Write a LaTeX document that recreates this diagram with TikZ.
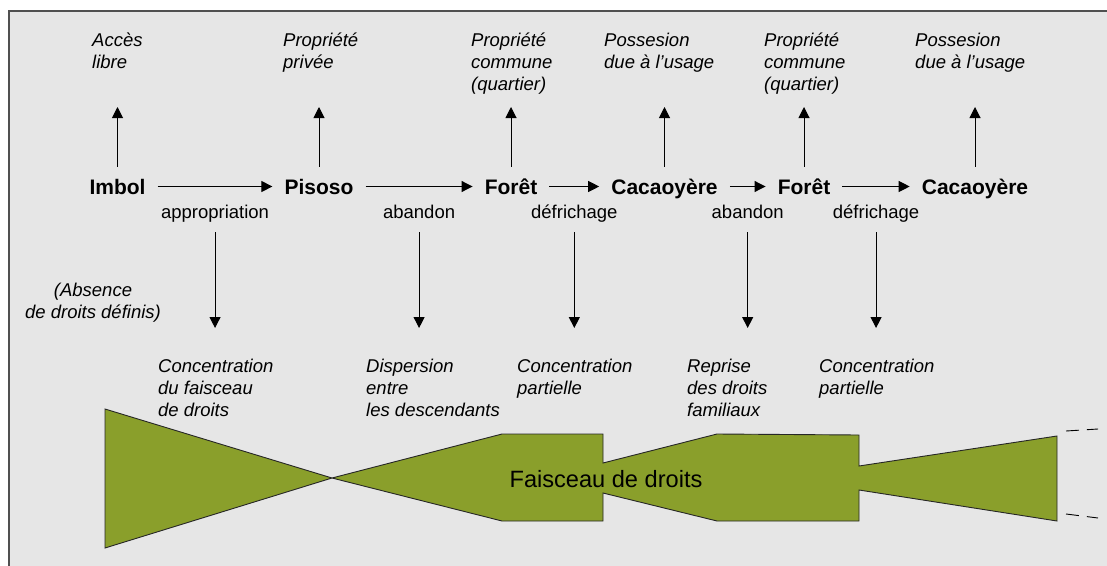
\documentclass[tikz,border=0pt]{standalone}
\usepackage{fontspec}
\setmainfont{Liberation Sans}
\usepackage{tikz}
\usetikzlibrary{arrows.meta, positioning}
\definecolor{panelgray}{RGB}{230,230,230}
\definecolor{framegray}{RGB}{80,80,80}
\definecolor{bundlegreen}{RGB}{138,159,43}
\tikzset{
    stage/.style={
        font=\fontsize{21}{25}\selectfont\bfseries,
        inner sep=0pt,
        text height=15pt,
        text depth=0pt
    },
    rights/.style={
        font=\fontsize{18.5}{22}\selectfont\itshape,
        align=left,
        inner sep=0pt,
        anchor=north west
    },
    event/.style={
        font=\fontsize{18.5}{22}\selectfont,
        inner sep=0pt,
        text height=13.5pt,
        text depth=4pt
    },
    wire/.style={
        draw=black,
        line width=1pt,
        -{Triangle[length=11pt,width=11pt]}
    },
    flow/.style={
        wire,
        shorten <=12pt,
        shorten >=12pt
    },
    bundle/.style={
        fill=bundlegreen,
        draw=black!85,
        line width=0.9pt
    },
    extension/.style={
        draw=black,
        line width=0.9pt,
        dash pattern=on 13pt off 8pt
    }
}

\begin{document}
\begin{tikzpicture}[x=1pt, y=-1pt]

% Panel
\useasboundingbox (0,0) rectangle (1107,565);
\fill[white] (0,0) rectangle (1107,565);
\draw[draw=framegray, line width=2pt, fill=panelgray] (9,11) rectangle (1130,590);

% Rows for the vertical arrows
\coordinate (uprow) at (0,107);
\coordinate (downrow) at (0,328);

% Stages of the land
\node[stage] (imbol) at (117.5,186.5) {Imbol};
\node[stage] (pisoso) at (319,186.5) {Pisoso};
\node[stage] (foret_a) at (511,186.5) {Forêt};
\node[stage] (cacao_a) at (664.5,186.5) {Cacaoyère};
\node[stage] (foret_b) at (804,186.5) {Forêt};
\node[stage] (cacao_b) at (975,186.5) {Cacaoyère};

% Rights attached to each stage
\node[rights] (acces) at (92,32.5) {Accès\\libre};
\node[rights] (privee) at (283,32.5) {Propriété\\privée};
\node[rights] (commune_a) at (471,32.5) {Propriété\\commune\\(quartier)};
\node[rights] (usage_a) at (604,32.5) {Possesion\\due à l’usage};
\node[rights] (commune_b) at (764,32.5) {Propriété\\commune\\(quartier)};
\node[rights] (usage_b) at (915,32.5) {Possesion\\due à l’usage};

\draw[wire, shorten <=12pt] (imbol) -- (imbol |- uprow);
\draw[wire, shorten <=12pt] (pisoso) -- (pisoso |- uprow);
\draw[wire, shorten <=12pt] (foret_a) -- (foret_a |- uprow);
\draw[wire, shorten <=12pt] (cacao_a) -- (cacao_a |- uprow);
\draw[wire, shorten <=12pt] (foret_b) -- (foret_b |- uprow);
\draw[wire, shorten <=12pt] (cacao_b) -- (cacao_b |- uprow);

% Transitions
\draw[flow] (imbol) -- node[event, below=18pt] (appr) {appropriation} (pisoso);
\draw[flow] (pisoso) -- node[event, below=18pt] (aband_a) {abandon} (foret_a);
\draw[flow] (foret_a) -- node[event, below=18pt] (defr_a) {défrichage} (cacao_a);
\draw[flow] (cacao_a) -- node[event, below=18pt] (aband_b) {abandon} (foret_b);
\draw[flow] (foret_b) -- node[event, below=18pt] (defr_b) {défrichage} (cacao_b);

\draw[wire, shorten <=9pt] (appr) -- (appr |- downrow);
\draw[wire, shorten <=9pt] (aband_a) -- (aband_a |- downrow);
\draw[wire, shorten <=9pt] (defr_a) -- (defr_a |- downrow);
\draw[wire, shorten <=9pt] (aband_b) -- (aband_b |- downrow);
\draw[wire, shorten <=9pt] (defr_b) -- (defr_b |- downrow);

% Effects on the bundle
\node[rights, align=center, anchor=north] (absence) at (93,282.5) {(Absence\\de droits définis)};
\node[rights] (conc_a) at (158,358.5) {Concentration\\du faisceau\\de droits};
\node[rights] (disp) at (366,358.5) {Dispersion\\entre\\les descendants};
\node[rights] (conc_b) at (517,358.5) {Concentration\\partielle};
\node[rights] (repr) at (687,358.5) {Reprise\\des droits\\familiaux};
\node[rights] (conc_c) at (819,358.5) {Concentration\\partielle};

% Bundle of rights
\draw[bundle] (105,409) -- (332,478) -- (502,521) -- (603,521) -- (603,493)
    -- (717,521) -- (859,521) -- (859,490) -- (1057,521) -- (1057,436)
    -- (859,466) -- (859,435) -- (717,434) -- (603,463) -- (603,434)
    -- (502,434) -- (332,478) -- (105,548) -- cycle;
\node[font=\fontsize{23.6}{28}\selectfont] (faisceau) at (606,479) {Faisceau de droits};
\draw[extension] (1066,431) -- (1098,429);
\draw[extension] (1066,514) -- (1098,518);

\end{tikzpicture}
\end{document}
